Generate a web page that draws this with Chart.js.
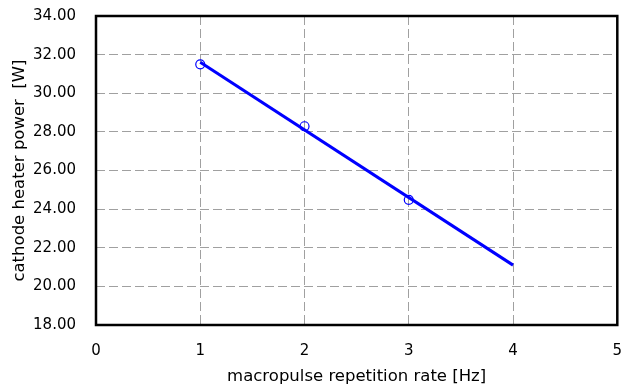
<!DOCTYPE html>
<html>
<head>
<meta charset="utf-8">
<script src="https://cdn.jsdelivr.net/npm/chart.js@4/dist/chart.umd.min.js"></script>
<style>
html,body{margin:0;padding:0;background:#fff;}
#wrap{width:623px;height:385px;}
</style>
</head>
<body>
<div id="wrap"><canvas id="c" width="623" height="385"></canvas></div>
<script>
// measured data
const rate = [1, 2, 3];
const power = [31.5, 28.29, 24.48];
// fitted line endpoints
const fitRate = [1, 4];
const fitPower = [31.6, 21.1];
const xTicks = [0, 1, 2, 3, 4, 5];
const yTicks = [18, 20, 22, 24, 26, 28, 30, 32, 34];

const FONT = "'DejaVu Sans', sans-serif";

const framePlugin = {
  id: 'frame',
  afterDatasetsDraw(chart) {
    const {ctx, chartArea: a} = chart;
    ctx.save();
    ctx.strokeStyle = '#000';
    ctx.lineWidth = 2.5;
    ctx.strokeRect(a.left, a.top, a.right - a.left, a.bottom - a.top);
    ctx.restore();
  }
};

new Chart(document.getElementById('c'), {
  type: 'scatter',
  data: {
    datasets: [
      {
        data: fitRate.map((x, i) => ({x, y: fitPower[i]})),
        showLine: true,
        borderColor: '#0000ff',
        borderWidth: 3,
        pointRadius: 0,
        fill: false
      },
      {
        data: rate.map((x, i) => ({x, y: power[i]})),
        showLine: false,
        pointStyle: 'circle',
        pointRadius: 4.5,
        pointBorderWidth: 1.2,
        pointBorderColor: '#0000ff',
        pointBackgroundColor: 'rgba(255,255,255,0)'
      }
    ]
  },
  options: {
    responsive: false,
    animation: false,
    devicePixelRatio: 1,
    layout: {padding: {top: 16, right: 3, left: 0, bottom: 0}},
    plugins: {legend: {display: false}, tooltip: {enabled: false}},
    scales: {
      x: {
        type: 'linear',
        min: 0, max: 5,
        afterBuildTicks: s => { s.ticks = xTicks.map(v => ({value: v})); },
        afterFit: s => {
          s.height = 60; s.paddingLeft = 0; s.paddingRight = 0;
          if (s._margins) { s._margins.right = 0; }
        },
        grid: {color: '#a0a0a0', lineWidth: 1, drawTicks: false},
        border: {display: false, dash: [9, 4]},
        ticks: {color: '#000', font: {family: FONT, size: 15}, padding: 17, maxRotation: 0, callback: v => String(v)},
        title: {display: true, text: 'macropulse repetition rate [Hz]', color: '#000',
                font: {family: FONT, size: 16.5, lineHeight: 1.0}, padding: {top: 0, bottom: 0}}
      },
      y: {
        type: 'linear',
        min: 18, max: 34,
        afterBuildTicks: s => { s.ticks = yTicks.map(v => ({value: v})); },
        afterFit: s => { s.width = 96; s.paddingTop = 0; s.paddingBottom = 0; },
        grid: {color: '#a0a0a0', lineWidth: 1, drawTicks: false},
        border: {display: false, dash: [9, 4]},
        ticks: {color: '#000', font: {family: FONT, size: 15}, padding: 20, callback: v => v.toFixed(2)},
        title: {display: true, text: 'cathode heater power  [W]', color: '#000',
                font: {family: FONT, size: 16.5, lineHeight: 1.0}, padding: {top: 11, bottom: 0}}
      }
    }
  },
  plugins: [framePlugin]
});
</script>
</body>
</html>
